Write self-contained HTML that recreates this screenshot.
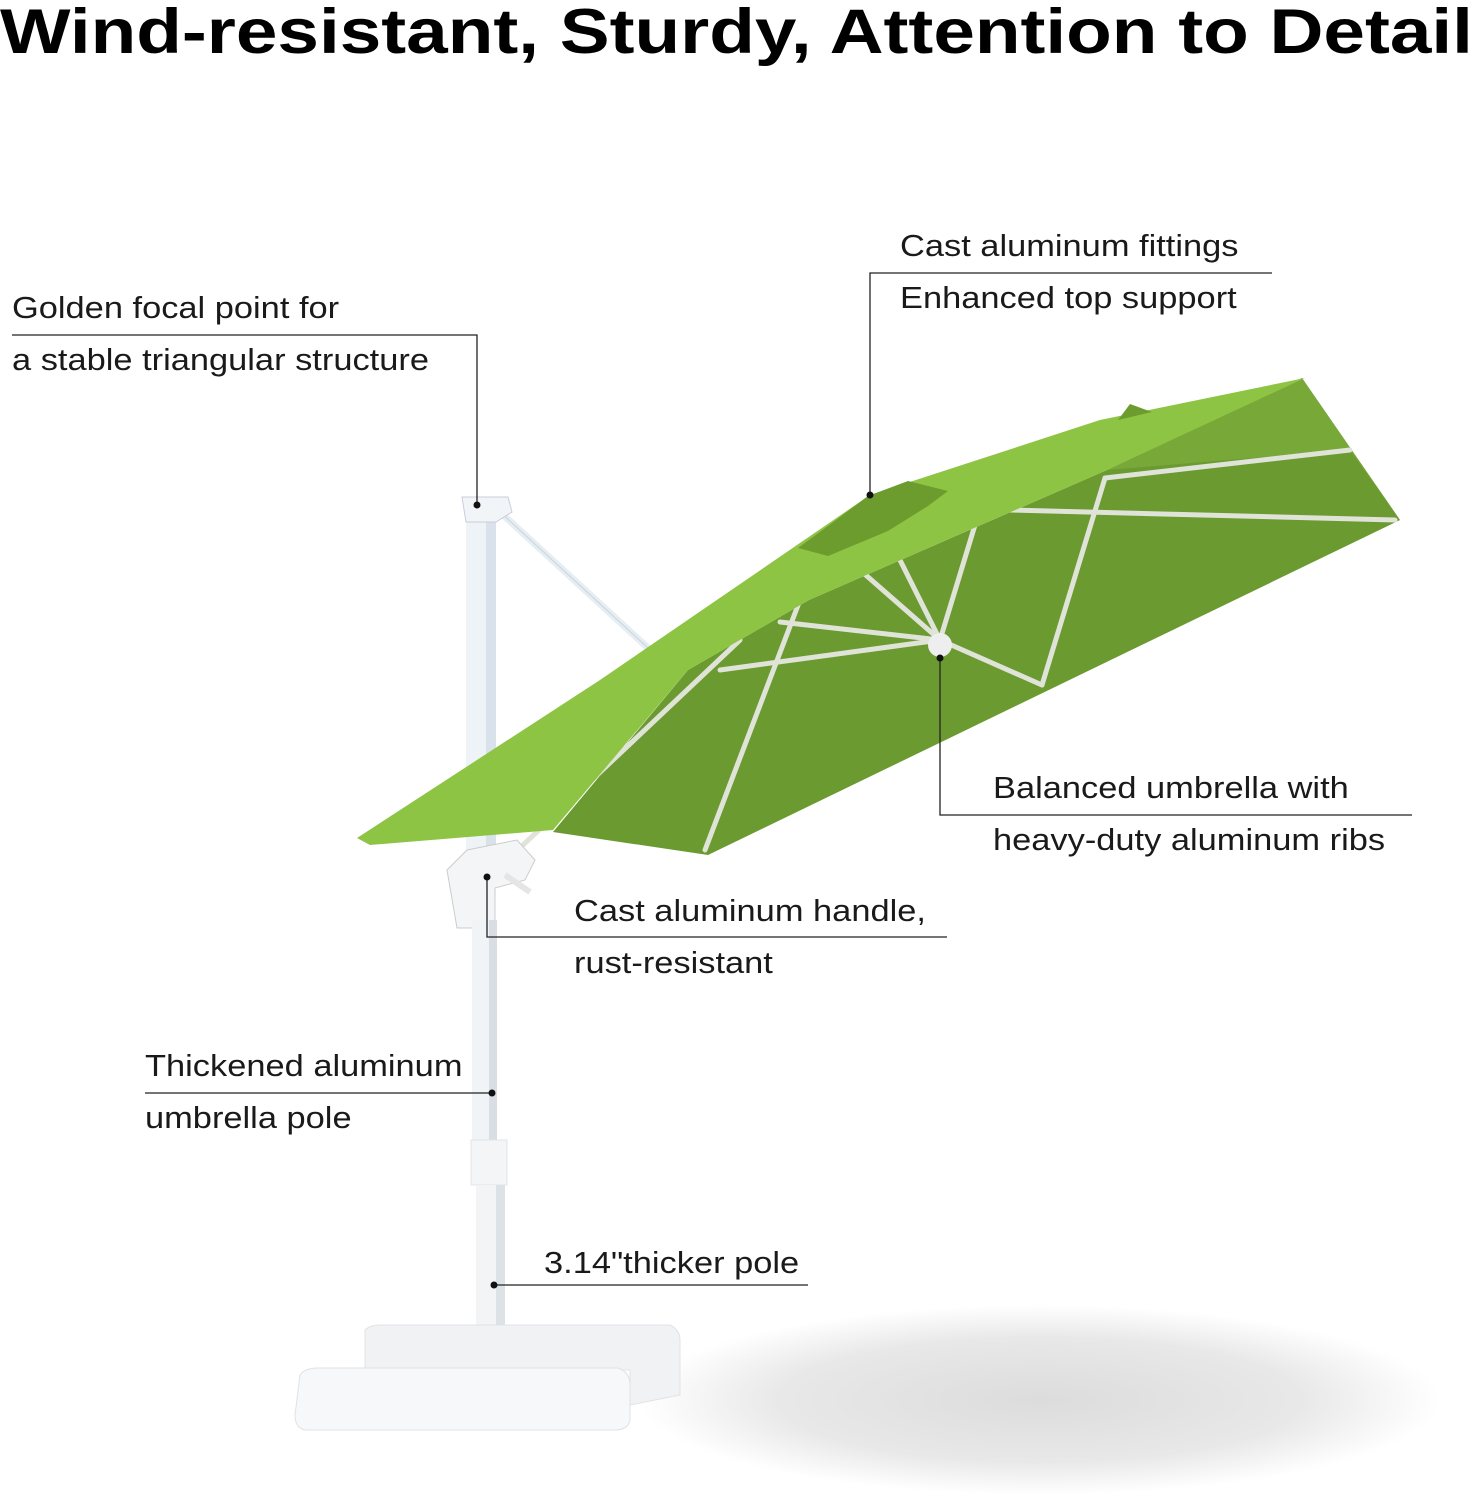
<!DOCTYPE html>
<html><head><style>
body{margin:0;width:1470px;height:1500px;background:#fff;overflow:hidden;position:relative;font-family:"Liberation Sans",sans-serif;}
.t{position:absolute;font-size:31px;color:#1a1a1a;white-space:nowrap;line-height:1;transform:scaleX(1.11);transform-origin:0 0;}
h1{position:absolute;left:0;top:0;margin:0;font-size:63px;font-weight:bold;color:#000;white-space:nowrap;line-height:64px;transform:scaleX(1.186);transform-origin:0 0;}
svg{position:absolute;left:0;top:0;}
</style></head><body>
<svg width="1470" height="1500">
<defs>
<radialGradient id="sh" cx="0.5" cy="0.5" r="0.5"><stop offset="0" stop-color="#dcdcdc"/><stop offset="0.65" stop-color="#e8e8e8"/><stop offset="1" stop-color="#fff"/></radialGradient>
</defs>
<ellipse cx="1040" cy="1400" rx="400" ry="95" fill="url(#sh)"/>
<!-- strut -->
<line x1="500" y1="512" x2="648" y2="648" stroke="#e6eef4" stroke-width="7"/>
<line x1="500" y1="512" x2="648" y2="648" stroke="#c8d4dc" stroke-width="1"/>
<!-- pole upper -->
<rect x="466" y="500" width="30" height="360" fill="#eef3f7"/>
<rect x="486" y="500" width="10" height="360" fill="#d9e2ea"/>
<polygon points="462,497 508,497 512,512 496,522 466,522" fill="#f2f5f8" stroke="#ccd" stroke-width="1"/>
<!-- underside of canopy -->
<polygon points="1302,378 1400,520 708,855 553,832 688,670 809,600 1107,470" fill="#6a9a30"/>
<polygon points="1302,378 1400,520 1350,450 1107,470" fill="#78a838"/>
<!-- ribs -->
<g stroke="#dfe3d8" stroke-width="5" fill="none" stroke-linecap="round">
<line x1="1105" y1="478" x2="1350" y2="450"/>
<line x1="1010" y1="510" x2="1395" y2="520"/>
<line x1="1105" y1="478" x2="1042" y2="685"/>
<line x1="940" y1="640" x2="1042" y2="685"/>
<line x1="940" y1="640" x2="975" y2="525"/>
<line x1="940" y1="640" x2="860" y2="570"/>
<line x1="940" y1="640" x2="900" y2="560"/>
<line x1="940" y1="640" x2="780" y2="622"/>
<line x1="940" y1="640" x2="720" y2="670"/>
<line x1="800" y1="600" x2="705" y2="850"/>
<line x1="523" y1="845" x2="740" y2="640"/>
</g>
<circle cx="940" cy="645" r="12" fill="#eee"/>
<!-- top face -->
<polygon points="357,838 600,680 870,495 1100,420 1305,378 1107,470 809,600 688,670 553,830 370,845" fill="#8ec444"/>
<path d="M798,548 l30,-22 l40,-30 l40,-15 l40,10 l-20,15 l-40,25 l-60,25 z" fill="#6c9c2e"/>
<path d="M1118,420 l12,-16 l22,8 z" fill="#6c9c2e"/>
<!-- handle -->
<path d="M447,870 l20,-20 l50,-10 l18,20 l-10,20 l-30,8 l0,40 l-38,0 z" fill="#f3f5f7" stroke="#ccc"/>
<line x1="505" y1="875" x2="530" y2="892" stroke="#e5e5e5" stroke-width="6"/>
<!-- pole lower -->
<rect x="472" y="920" width="24" height="240" fill="#f1f4f6"/>
<rect x="489" y="920" width="8" height="240" fill="#d8dee4"/>
<rect x="471" y="1140" width="36" height="45" fill="#f3f5f7" stroke="#e0e4e8"/>
<rect x="476" y="1185" width="28" height="150" fill="#f2f4f6"/>
<rect x="496" y="1185" width="9" height="150" fill="#dde2e6"/>
<!-- base -->
<path d="M365,1330 Q370,1325 380,1325 L670,1325 Q680,1330 680,1340 L680,1395 L630,1405 L630,1370 L365,1370z" fill="#f0f2f4" stroke="#e0e3e6"/>
<path d="M300,1375 Q305,1368 318,1368 L618,1368 Q630,1372 630,1385 L630,1420 Q628,1430 615,1430 L305,1430 Q295,1428 295,1415z" fill="#f7f8f9" stroke="#dfe2e5"/>
<!-- callout lines -->
<g stroke="#222" stroke-width="1.3" fill="none">
<polyline points="12,335 477,335 477,505"/>
<polyline points="1272,273 870,273 870,495"/>
<polyline points="940,658 940,815 1412,815"/>
<polyline points="487,877 487,937 947,937"/>
<polyline points="145,1093 492,1093"/>
<polyline points="494,1285 808,1285"/>
</g>
<g fill="#111">
<circle cx="477" cy="505" r="3.5"/><circle cx="870" cy="495" r="3.5"/><circle cx="940" cy="658" r="3.5"/>
<circle cx="487" cy="877" r="3.5"/><circle cx="492" cy="1093" r="3.5"/><circle cx="494" cy="1285" r="3.5"/>
</g>
</svg>
<h1>Wind-resistant, Sturdy, Attention to Detail</h1>
<div class="t" style="left:12px;top:292px">Golden focal point for</div>
<div class="t" style="left:12px;top:344px">a stable triangular structure</div>
<div class="t" style="left:900px;top:230px">Cast aluminum fittings</div>
<div class="t" style="left:900px;top:282px">Enhanced top support</div>
<div class="t" style="left:993px;top:772px">Balanced umbrella with</div>
<div class="t" style="left:993px;top:824px">heavy-duty aluminum ribs</div>
<div class="t" style="left:574px;top:895px">Cast aluminum handle,</div>
<div class="t" style="left:574px;top:947px">rust-resistant</div>
<div class="t" style="left:145px;top:1050px">Thickened aluminum</div>
<div class="t" style="left:145px;top:1102px">umbrella pole</div>
<div class="t" style="left:544px;top:1247px">3.14"thicker pole</div>
</body></html>
